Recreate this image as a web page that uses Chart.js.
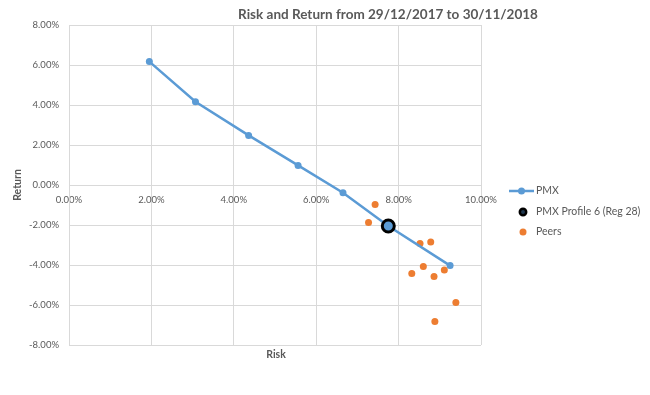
<!DOCTYPE html>
<html>
<head>
<meta charset="utf-8">
<script src="https://cdn.jsdelivr.net/npm/chart.js@4.4.1/dist/chart.umd.min.js"></script>
<style>
  html, body { margin: 0; padding: 0; background: #ffffff; }
  #wrap { width: 650px; height: 395px; }
</style>
</head>
<body>
<div id="wrap"><canvas id="c" width="650" height="395"></canvas></div>
<script>
// ---- Data (percent values) ----
const chartTitle = 'Risk and Return from 29/12/2017 to 30/11/2018';
const xAxisTitle = 'Risk';
const yAxisTitle = 'Return';
const seriesNames = ['PMX', 'PMX Profile 6 (Reg 28)', 'Peers'];

const pmxRisk   = [1.95, 3.07, 4.36, 5.56, 6.65, 7.75, 9.25];
const pmxReturn = [6.17, 4.16, 2.48, 0.98, -0.39, -2.05, -4.03];

const profileRisk   = [7.75];
const profileReturn = [-2.05];

const peersRisk   = [7.43, 7.27, 8.52, 8.78, 8.32, 8.60, 8.86, 9.11, 9.39, 8.88];
const peersReturn = [-0.97, -1.88, -2.92, -2.85, -4.42, -4.08, -4.58, -4.25, -5.87, -6.83];

const xTicks = [0, 2, 4, 6, 8, 10];
const yTicks = [-8, -6, -4, -2, 0, 2, 4, 6, 8];

// ---- Styles ----
const BLUE = '#5B9BD5';
const ORANGE = '#ED7D31';
const TEXT = '#595959';
const GRID = '#D9D9D9';
const FONT = 'Lato, "Open Sans", sans-serif';

const toPts = (xs, ys) => xs.map((x, i) => ({ x: x, y: ys[i] }));

const overlay = {
  id: 'overlay',
  afterDraw(chart) {
    const ctx = chart.ctx;
    const area = chart.chartArea;
    ctx.save();
    // Title
    ctx.fillStyle = TEXT;
    ctx.textAlign = 'center';
    ctx.textBaseline = 'middle';
    let size = 14;
    ctx.font = `bold ${size}px ${FONT}`;
    const w = ctx.measureText(chartTitle).width;
    size = size * 300 / w;
    ctx.font = `bold ${size}px ${FONT}`;
    ctx.fillText(chartTitle, 388, 15);

    // Axis titles
    ctx.font = `bold 10.5px ${FONT}`;
    ctx.fillText(xAxisTitle, 276, 355);
    ctx.save();
    ctx.translate(18, 185);
    ctx.rotate(-Math.PI / 2);
    ctx.fillText(yAxisTitle, 0, 0);
    ctx.restore();

    // Legend
    ctx.font = `10.5px ${FONT}`;
    ctx.textAlign = 'left';
    const ds = chart.data.datasets;
    // PMX line
    ctx.strokeStyle = BLUE;
    ctx.lineWidth = 2.5;
    ctx.beginPath(); ctx.moveTo(509, 191); ctx.lineTo(534, 191); ctx.stroke();
    ctx.fillStyle = BLUE;
    ctx.beginPath(); ctx.arc(521.5, 191, 3.5, 0, Math.PI * 2); ctx.fill();
    ctx.fillStyle = TEXT;
    ctx.fillText(ds[0].label, 536, 191);
    // Profile
    ctx.fillStyle = '#1F3850';
    ctx.strokeStyle = '#000000';
    ctx.lineWidth = 2.5;
    ctx.beginPath(); ctx.arc(523, 212, 3.2, 0, Math.PI * 2); ctx.fill(); ctx.stroke();
    ctx.fillStyle = TEXT;
    ctx.fillText(ds[1].label, 536, 212);
    // Peers
    ctx.fillStyle = ORANGE;
    ctx.beginPath(); ctx.arc(523, 232, 3.5, 0, Math.PI * 2); ctx.fill();
    ctx.fillStyle = TEXT;
    ctx.fillText(ds[2].label, 536, 232);
    ctx.restore();
  }
};

new Chart(document.getElementById('c'), {
  type: 'scatter',
  data: {
    datasets: [
      {
        label: seriesNames[0],
        data: toPts(pmxRisk, pmxReturn),
        showLine: true,
        borderColor: BLUE,
        backgroundColor: BLUE,
        borderWidth: 2.5,
        pointRadius: 3.5,
        pointBorderWidth: 0,
        order: 1
      },
      {
        label: seriesNames[1],
        data: toPts(profileRisk, profileReturn),
        borderColor: '#000000',
        backgroundColor: BLUE,
        pointRadius: 6,
        pointBorderWidth: 3,
        order: 0
      },
      {
        label: seriesNames[2],
        data: toPts(peersRisk, peersReturn),
        borderColor: ORANGE,
        backgroundColor: ORANGE,
        pointRadius: 3.5,
        pointBorderWidth: 0,
        order: 2
      }
    ]
  },
  options: {
    responsive: false,
    animation: false,
    devicePixelRatio: 1,
    layout: { padding: { left: 0, top: 25, right: 169, bottom: 50 } },
    plugins: {
      legend: { display: false },
      title: { display: false },
      tooltip: { enabled: false }
    },
    scales: {
      x: {
        type: 'linear',
        min: 0, max: 10,
        position: { y: 0 },
        afterBuildTicks: s => { s.ticks = xTicks.map(v => ({ value: v })); },
        ticks: {
          color: TEXT,
          font: { family: FONT, size: 9.5 },
          padding: 9,
          maxRotation: 0,
          callback: v => v.toFixed(2) + '%'
        },
        grid: { color: GRID, lineWidth: 1, drawTicks: false },
        border: { color: GRID, width: 1 }
      },
      y: {
        type: 'linear',
        min: -8, max: 8,
        afterBuildTicks: s => { s.ticks = yTicks.map(v => ({ value: v })); },
        afterFit: s => { s.width = 69; },
        ticks: {
          color: TEXT,
          font: { family: FONT, size: 9.5 },
          padding: 10,
          callback: v => v.toFixed(2) + '%'
        },
        grid: { color: GRID, lineWidth: 1, drawTicks: false },
        border: { color: GRID, width: 1 }
      }
    }
  },
  plugins: [overlay]
});
</script>
</body>
</html>
